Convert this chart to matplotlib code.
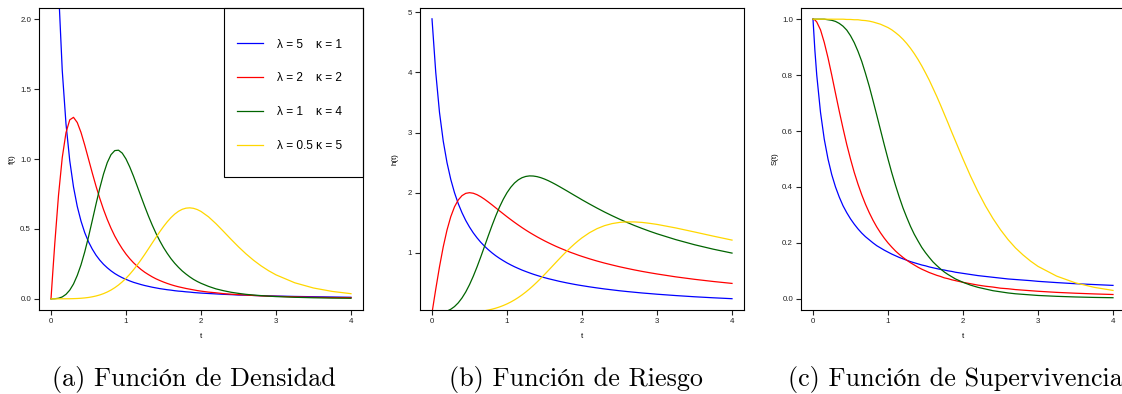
"""
plot.py — Log-logistic density, hazard and survival curves (three panels).
"""
import matplotlib
matplotlib.use("Agg")
import matplotlib.pyplot as plt
from matplotlib.patches import Rectangle

# time grid shared by all curves
t = [0, 0.025, 0.05, 0.1, 0.15, 0.2, 0.25, 0.3, 0.35, 0.4,
     0.45, 0.5, 0.55, 0.6, 0.65, 0.7, 0.75, 0.8, 0.85, 0.9, 0.95, 1.0,
     1.05, 1.1, 1.15, 1.2, 1.25, 1.3, 1.35, 1.4, 1.45, 1.5,
     1.55, 1.6, 1.65, 1.7, 1.75, 1.8, 1.85, 1.9, 1.95, 2.0,
     2.1, 2.2, 2.3, 2.4, 2.5, 2.6, 2.7, 2.8, 2.9, 3.0,
     3.25, 3.5, 3.75, 4.0]

# (a) density f(t)
dens_blue = [5.0, 3.951, 3.2, 2.222, 1.633, 1.25, 0.988, 0.8, 0.661, 0.556,
             0.473, 0.408, 0.356, 0.3125, 0.277, 0.247, 0.222, 0.2, 0.181, 0.165, 0.151, 0.139,
             0.128, 0.118, 0.110, 0.102, 0.095, 0.089, 0.083, 0.078, 0.073, 0.069,
             0.065, 0.062, 0.058, 0.055, 0.053, 0.05, 0.048, 0.045, 0.043, 0.041,
             0.038, 0.035, 0.032, 0.030, 0.027, 0.026, 0.024, 0.022, 0.021, 0.020,
             0.017, 0.015, 0.013, 0.011]
dens_red = [0, 0.199, 0.392, 0.740, 1.010, 1.189, 1.28, 1.298, 1.261, 1.190,
            1.099, 1.0, 0.901, 0.806, 0.719, 0.639, 0.568, 0.505, 0.449, 0.401, 0.358, 0.32,
            0.287, 0.258, 0.233, 0.210, 0.190, 0.173, 0.157, 0.143, 0.131, 0.12,
            0.110, 0.101, 0.093, 0.086, 0.080, 0.074, 0.069, 0.064, 0.059, 0.055,
            0.048, 0.043, 0.037, 0.033, 0.030, 0.027, 0.024, 0.021, 0.019, 0.018,
            0.014, 0.011, 0.009, 0.008]
dens_green = [0, 0.0001, 0.0005, 0.004, 0.0135, 0.032, 0.062, 0.106, 0.167, 0.243,
              0.336, 0.443, 0.559, 0.677, 0.791, 0.892, 0.974, 1.031, 1.060, 1.063, 1.042, 1.0,
              0.943, 0.877, 0.805, 0.732, 0.660, 0.591, 0.527, 0.468, 0.415, 0.367,
              0.325, 0.287, 0.254, 0.225, 0.199, 0.177, 0.157, 0.139, 0.124, 0.111,
              0.089, 0.071, 0.058, 0.047, 0.039, 0.032, 0.027, 0.023, 0.019, 0.016,
              0.011, 0.0075, 0.0053, 0.0039]
dens_yellow = [0, 0, 0, 0, 0.0001, 0.0003, 0.0006, 0.0013, 0.0023, 0.004,
               0.0064, 0.0097, 0.0143, 0.0202, 0.0277, 0.0371, 0.0487, 0.0627, 0.0794, 0.0988,
               0.1213, 0.1469, 0.1756, 0.2074, 0.2419, 0.2789, 0.3179, 0.3583, 0.3993, 0.4399,
               0.4794, 0.5167, 0.5508, 0.5809, 0.6062, 0.6261, 0.6403, 0.6484, 0.6507, 0.6472,
               0.6385, 0.625,
               0.5865, 0.5371, 0.4822, 0.4260, 0.3718, 0.3215, 0.2761, 0.2361, 0.2013, 0.1714,
               0.1147, 0.0773, 0.0529, 0.0367]

# (b) hazard h(t)
haz_blue = [4.89, 4.444, 4.0, 3.333, 2.857, 2.5, 2.222, 2.0, 1.818, 1.667,
            1.538, 1.429, 1.333, 1.25, 1.176, 1.111, 1.053, 1.0, 0.952, 0.909, 0.870, 0.833,
            0.8, 0.769, 0.741, 0.714, 0.690, 0.667, 0.645, 0.625, 0.606, 0.588,
            0.571, 0.556, 0.541, 0.526, 0.513, 0.5, 0.488, 0.476, 0.465, 0.455,
            0.435, 0.417, 0.4, 0.385, 0.370, 0.357, 0.345, 0.333, 0.323, 0.3125,
            0.290, 0.270, 0.253, 0.238]
haz_red = [0, 0.1995, 0.396, 0.769, 1.101, 1.379, 1.6, 1.765, 1.879, 1.951,
           1.989, 2.0, 1.991, 1.967, 1.933, 1.892, 1.846, 1.798, 1.748, 1.698, 1.649, 1.6,
           1.553, 1.507, 1.463, 1.420, 1.379, 1.340, 1.303, 1.267, 1.233, 1.2,
           1.169, 1.139, 1.110, 1.083, 1.057, 1.032, 1.007, 0.985, 0.962, 0.941,
           0.901, 0.864, 0.830, 0.799, 0.769, 0.742, 0.716, 0.692, 0.670, 0.649,
           0.601, 0.56, 0.524, 0.492]
haz_green = [0, 0.0001, 0.0005, 0.004, 0.0135, 0.032, 0.062, 0.107, 0.169, 0.250,
             0.350, 0.471, 0.610, 0.765, 0.932, 1.106, 1.282, 1.453, 1.614, 1.761, 1.890, 2.0,
             2.090, 2.161, 2.213, 2.249, 2.270, 2.279, 2.277, 2.267, 2.250, 2.227,
             2.200, 2.169, 2.136, 2.101, 2.065, 2.029, 1.992, 1.955, 1.919, 1.882,
             1.812, 1.744, 1.679, 1.618, 1.560, 1.506, 1.454, 1.406, 1.360, 1.317,
             1.220, 1.135, 1.061, 0.996]
haz_yellow = [0, 0, 0, 0, 0.0001, 0.0003, 0.0006, 0.0013, 0.0023, 0.004,
              0.0064, 0.0098, 0.0143, 0.0202, 0.0278, 0.0373, 0.0491, 0.0634, 0.0805, 0.1007,
              0.1243, 0.1515, 0.1826, 0.2178, 0.2571, 0.3006, 0.3483, 0.3999, 0.4552, 0.5139,
              0.5754, 0.6393, 0.7048, 0.7713, 0.8379, 0.9039, 0.9686, 1.0313, 1.0913, 1.148,
              1.2010, 1.25,
              1.335, 1.402, 1.452, 1.486, 1.506, 1.515, 1.514, 1.506, 1.491, 1.473,
              1.414, 1.347, 1.278, 1.212]

# (c) survival S(t)
surv_blue = [1.0, 0.889, 0.8, 0.667, 0.571, 0.5, 0.444, 0.4, 0.364, 0.333,
             0.308, 0.286, 0.267, 0.25, 0.235, 0.222, 0.211, 0.2, 0.190, 0.182, 0.174, 0.167,
             0.16, 0.154, 0.148, 0.143, 0.138, 0.133, 0.129, 0.125, 0.121, 0.118,
             0.114, 0.111, 0.108, 0.105, 0.103, 0.1, 0.098, 0.095, 0.093, 0.091,
             0.087, 0.083, 0.08, 0.077, 0.074, 0.071, 0.069, 0.067, 0.065, 0.0625,
             0.058, 0.054, 0.051, 0.048]
surv_red = [1.0, 0.9975, 0.990, 0.962, 0.917, 0.862, 0.8, 0.735, 0.671, 0.610,
            0.552, 0.5, 0.452, 0.410, 0.372, 0.338, 0.308, 0.281, 0.257, 0.236, 0.217, 0.2,
            0.185, 0.171, 0.159, 0.148, 0.138, 0.129, 0.121, 0.113, 0.106, 0.1,
            0.094, 0.089, 0.084, 0.080, 0.075, 0.072, 0.068, 0.065, 0.062, 0.059,
            0.054, 0.049, 0.045, 0.042, 0.038, 0.036, 0.033, 0.031, 0.029, 0.027,
            0.023, 0.02, 0.0175, 0.0154]
surv_green = [1.0, 1.0, 1.0, 1.0, 1.0, 0.998, 0.996, 0.992, 0.985, 0.975,
              0.961, 0.941, 0.916, 0.885, 0.849, 0.806, 0.760, 0.709, 0.657, 0.604, 0.551, 0.5,
              0.451, 0.406, 0.364, 0.325, 0.291, 0.259, 0.231, 0.207, 0.184, 0.165,
              0.148, 0.132, 0.119, 0.107, 0.096, 0.087, 0.079, 0.071, 0.065, 0.059,
              0.049, 0.041, 0.035, 0.029, 0.025, 0.021, 0.018, 0.016, 0.014, 0.012,
              0.0089, 0.0066, 0.005, 0.0039]
surv_yellow = [1.0, 1.0, 1.0, 1.0, 1.0, 1.0, 1.0, 1.0, 1.0, 1.0,
               0.999, 0.999, 0.998, 0.998, 0.996, 0.995, 0.993, 0.990, 0.986, 0.982, 0.976, 0.970,
               0.962, 0.952, 0.941, 0.928, 0.913, 0.896, 0.877, 0.856, 0.833, 0.808,
               0.782, 0.753, 0.724, 0.693, 0.661, 0.629, 0.596, 0.564, 0.532, 0.5,
               0.439, 0.383, 0.332, 0.287, 0.247, 0.212, 0.182, 0.157, 0.135, 0.116,
               0.081, 0.057, 0.041, 0.030]

labels = ["λ = 5    κ = 1", "λ = 2    κ = 2", "λ = 1    κ = 4", "λ = 0.5 κ = 5"]
colors = ["#0000FF", "#FF0000", "#006400", "#FFD700"]
xticks = [0, 1, 2, 3, 4]
captions = ["(a) Función de Densidad", "(b) Función de Riesgo", "(c) Función de Supervivencia"]

plt.rcParams["font.family"] = ["Liberation Sans", "DejaVu Sans"]
SMALL = 5.7
W, H = 1122, 394


def draw_panel(ax, curves, ylabel, yticks, yticklabels, ylim, ylab_x):
    """One R-style panel: framed box, outward ticks, horizontal tick labels."""
    for y, c, lab in zip(curves, colors, labels):
        ax.plot(t, y, color=c, lw=0.9, label=lab)
    ax.set_xlim(-0.16, 4.16)
    ax.set_ylim(*ylim)
    ax.set_xticks(xticks)
    ax.set_yticks(yticks)
    ax.set_yticklabels(yticklabels)
    ax.tick_params(direction="out", length=3.3, width=0.8, labelsize=SMALL, colors="#222222")
    ax.tick_params(axis="x", pad=2.6)
    ax.tick_params(axis="y", pad=2.4)
    for sp in ax.spines.values():
        sp.set_linewidth(0.8)
    ax.set_xlabel("t", fontsize=SMALL)
    ax.xaxis.set_label_coords(0.5, -0.075)
    ax.set_ylabel(ylabel, fontsize=SMALL)
    ax.yaxis.set_label_coords(ylab_x, 0.5)


fig = plt.figure(figsize=(W / 100, H / 100), dpi=100)
bottom, height, width = 84 / H, 302 / H, 324 / W

ax_a = fig.add_axes([39 / W, bottom, width, height])
draw_panel(ax_a, [dens_blue, dens_red, dens_green, dens_yellow], "f(t)",
           [0, 0.5, 1.0, 1.5, 2.0], ["0.0", "0.5", "1.0", "1.5", "2.0"],
           (-0.08, 2.08), -0.0725)

ax_b = fig.add_axes([420 / W, bottom, width, height])
draw_panel(ax_b, [haz_blue, haz_red, haz_green, haz_yellow], "h(t)",
           [1, 2, 3, 4, 5], ["1", "2", "3", "4", "5"],
           (0.05, 5.07), -0.066)

ax_c = fig.add_axes([801 / W, bottom, width, height])
draw_panel(ax_c, [surv_blue, surv_red, surv_green, surv_yellow], "S(t)",
           [0, 0.2, 0.4, 0.6, 0.8, 1.0], ["0.0", "0.2", "0.4", "0.6", "0.8", "1.0"],
           (-0.04, 1.04), -0.069)

# legend box in the top-right corner of panel (a)
ax_a.add_patch(Rectangle((0.571, 0.44), 0.429, 0.56, transform=ax_a.transAxes,
                         fill=False, edgecolor="black", linewidth=0.8, clip_on=False))
ax_a.legend(loc="upper left", bbox_to_anchor=(0.611, 0.899), frameon=False,
            fontsize=8.6, handlelength=2.17, handletextpad=1.17, labelspacing=1.83,
            borderpad=0, borderaxespad=0)

# sub-figure captions
cap_font = ["cmr10", "STIXGeneral", "DejaVu Serif"]
fig.text(193.5 / W, 8 / H, captions[0], ha="center", va="baseline", fontsize=18.8, family=cap_font)
fig.text(576 / W, 8 / H, captions[1], ha="center", va="baseline", fontsize=18.8, family=cap_font)
fig.text(788 / W, 8 / H, captions[2], ha="left", va="baseline", fontsize=18.8, family=cap_font)

fig.savefig("out.png", dpi=100)
